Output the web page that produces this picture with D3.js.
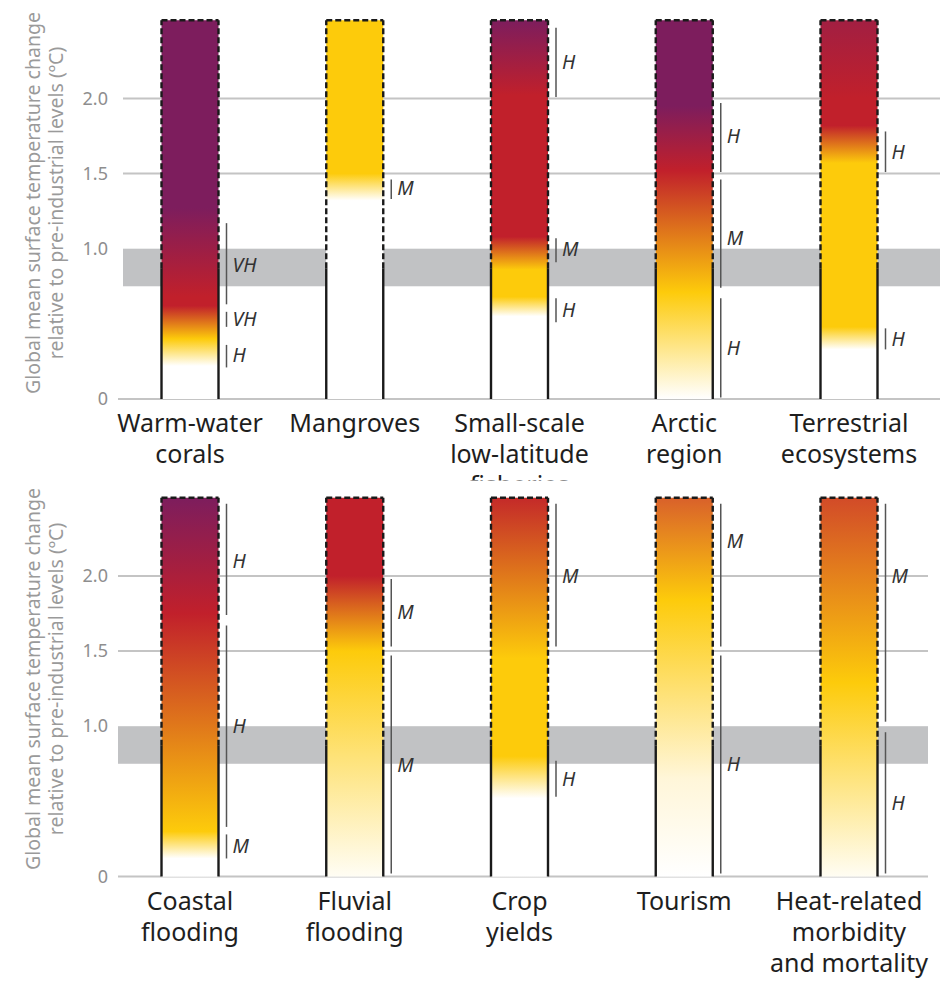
<!DOCTYPE html>
<html>
<head>
<meta charset="utf-8">
<script src="https://cdn.jsdelivr.net/npm/d3@7"></script>
<style>
  body { margin: 0; background: #fff; }
  svg { display: block; }
</style>
</head>
<body>
<div id="chart"></div>
<script>
// risk colours: undetectable, moderate, high, very high
const WHITE = "#ffffff", YEL = "#fdcb0b", RED = "#c1202b", PUR = "#7d1d5d";

const topNames = [["Warm-water", "corals"], ["Mangroves"], ["Small-scale", "low-latitude", "fisheries"],
  ["Arctic", "region"], ["Terrestrial", "ecosystems"]];
const bottomNames = [["Coastal", "flooding"], ["Fluvial", "flooding"], ["Crop", "yields"],
  ["Tourism"], ["Heat-related", "morbidity", "and mortality"]];

// gradient stops per bar: [temperature, colour]
const topStops = [
  [[0.22, WHITE], [0.40, YEL], [0.62, RED], [0.68, RED], [1.27, PUR], [2.52, PUR]],
  [[1.32, WHITE], [1.50, YEL], [2.52, YEL]],
  [[0.55, WHITE], [0.68, YEL], [0.86, YEL], [1.08, RED], [2.02, RED], [2.52, PUR]],
  [[0.0, WHITE], [0.71, YEL], [1.52, RED], [1.95, PUR], [2.52, PUR]],
  [[0.33, WHITE], [0.48, YEL], [1.57, YEL], [1.82, RED], [2.0, RED], [2.52, "#a21f42"]]
];
const bottomStops = [
  [[0.12, WHITE], [0.30, YEL], [1.75, RED], [2.52, PUR]],
  [[0.0, "#fffdf4"], [1.50, YEL], [2.0, RED], [2.52, RED]],
  [[0.52, WHITE], [0.80, YEL], [1.45, YEL], [2.52, "#c42a29"]],
  [[0.0, WHITE], [0.65, "#fff6d9"], [1.84, YEL], [2.52, "#d9612a"]],
  [[0.0, "#fffdf3"], [1.29, YEL], [2.52, "#d24b28"]]
];

// confidence brackets: [low, high, label, label position]
const topConf = [
  [[0.63, 1.17, "VH", 0.89], [0.48, 0.58, "VH", 0.53], [0.21, 0.36, "H", 0.29]],
  [[1.33, 1.46, "M", 1.40]],
  [[2.01, 2.47, "H", 2.24], [0.91, 1.07, "M", 1.00], [0.51, 0.67, "H", 0.59]],
  [[1.51, 1.97, "H", 1.75], [0.74, 1.46, "M", 1.07], [0.01, 0.67, "H", 0.34]],
  [[1.51, 1.78, "H", 1.64], [0.33, 0.47, "H", 0.40]]
];
const bottomConf = [
  [[1.74, 2.48, "H", 2.10], [0.33, 1.67, "H", 1.00], [0.12, 0.28, "M", 0.20]],
  [[1.53, 1.98, "M", 1.76], [0.02, 1.47, "M", 0.74]],
  [[1.53, 2.48, "M", 2.00], [0.53, 0.77, "H", 0.65]],
  [[1.53, 2.48, "M", 2.23], [0.02, 1.47, "H", 0.75]],
  [[1.03, 2.48, "M", 2.00], [0.02, 0.96, "H", 0.49]]
];

const yTicks = [0, 1.0, 1.5, 2.0];
const band = [0.75, 1.0];      // grey band
const present = 0.87;          // solid edges up to here, dashed above
const topT = 2.52;

const W = 940, H = 982;
const svg = d3.select("#chart").append("svg").attr("width", W).attr("height", H);
const defs = svg.append("defs");

function panel(id, names, stops, conf, y0, gridX, bandEnd, titleY) {
  const g = svg.append("g");
  g.append("rect").attr("x", 0).attr("y", y0 - 396).attr("width", W).attr("height", H - (y0 - 396)).attr("fill", "#fff");

  const y = d3.scaleLinear().domain([0, topT]).range([y0, y0 - topT * 150.3]);
  const x = d3.scalePoint().domain(d3.range(names.length)).range([190, 849]);
  const bw = 57;

  // grey band + gridlines
  g.append("rect").attr("x", gridX).attr("width", bandEnd - gridX)
    .attr("y", y(band[1])).attr("height", y(band[0]) - y(band[1])).attr("fill", "#c1c2c4");
  g.selectAll(".grid").data([1.5, 2.0]).join("line")
    .attr("x1", gridX).attr("x2", bandEnd).attr("y1", d => y(d)).attr("y2", d => y(d))
    .attr("stroke", "#c4c4c4").attr("stroke-width", 2);
  g.append("line").attr("x1", 118).attr("x2", bandEnd).attr("y1", y(0)).attr("y2", y(0))
    .attr("stroke", "#c4c4c4").attr("stroke-width", 2);

  // axis labels
  const ax = g.append("g").attr("transform", "translate(112,0)")
    .call(d3.axisLeft(y).tickValues(yTicks).tickSize(0).tickPadding(4)
      .tickFormat(d => d === 0 ? "0" : d3.format(".1f")(d)));
  ax.select(".domain").remove();
  ax.selectAll("text").attr("font-family", "Noto Sans").attr("font-size", 18).attr("fill", "#8e8e8e");

  const title = g.append("text").attr("transform", `translate(40,${titleY}) rotate(-90)`)
    .attr("text-anchor", "middle").attr("font-family", "Noto Sans").attr("font-size", 19.5)
    .attr("fill", "#9a9a9a");
  title.append("tspan").attr("x", 0).attr("dy", 0).text("Global mean surface temperature change");
  title.append("tspan").attr("x", 0).attr("dy", 23).text("relative to pre-industrial levels (ºC)");

  // bars
  names.forEach((nm, i) => {
    const gid = id + "g" + i;
    const grad = defs.append("linearGradient").attr("id", gid)
      .attr("gradientUnits", "userSpaceOnUse")
      .attr("x1", 0).attr("x2", 0).attr("y1", y(0)).attr("y2", y(topT));
    grad.selectAll("stop").data(stops[i]).join("stop")
      .attr("offset", d => d[0] / topT).attr("stop-color", d => d[1]);

    const cx = x(i), l = cx - bw / 2, r = cx + bw / 2;
    g.append("rect").attr("x", l).attr("width", bw).attr("y", y(topT)).attr("height", y(0) - y(topT))
      .attr("fill", "#fff");
    g.append("rect").attr("x", l).attr("width", bw).attr("y", y(topT)).attr("height", y(0) - y(topT))
      .attr("fill", `url(#${gid})`);

    [l, r].forEach(ex => {
      g.append("line").attr("x1", ex).attr("x2", ex).attr("y1", y(0)).attr("y2", y(present))
        .attr("stroke", "#1a1a1a").attr("stroke-width", 2.4);
      g.append("line").attr("x1", ex).attr("x2", ex).attr("y1", y(present)).attr("y2", y(topT))
        .attr("stroke", "#1a1a1a").attr("stroke-width", 2.4).attr("stroke-dasharray", "6,3");
    });
    g.append("line").attr("x1", l).attr("x2", r).attr("y1", y(topT)).attr("y2", y(topT))
      .attr("stroke", "#1a1a1a").attr("stroke-width", 2.4).attr("stroke-dasharray", "6,3");

    // confidence
    const lx = r + 8;
    conf[i].forEach(c => {
      g.append("line").attr("x1", lx).attr("x2", lx).attr("y1", y(c[0])).attr("y2", y(c[1]))
        .attr("stroke", "#555").attr("stroke-width", 1.5);
      g.append("text").attr("x", lx + 6).attr("y", y(c[3])).attr("dy", "0.35em")
        .attr("font-family", "Noto Sans").attr("font-style", "italic").attr("font-size", 19.5)
        .attr("fill", "#333").text(c[2]);
    });

    // category label
    const t = g.append("text").attr("x", cx).attr("y", y(0) + 33).attr("text-anchor", "middle")
      .attr("font-family", "Noto Sans").attr("font-size", 25).attr("fill", "#1e1e1e");
    nm.forEach((line, k) => t.append("tspan").attr("x", cx).attr("dy", k ? 31 : 0).text(line));
  });
}

panel("top", topNames, topStops, topConf, 399, 123, 940, 203);
panel("bot", bottomNames, bottomStops, bottomConf, 876.5, 118, 928, 679);
</script>
</body>
</html>
